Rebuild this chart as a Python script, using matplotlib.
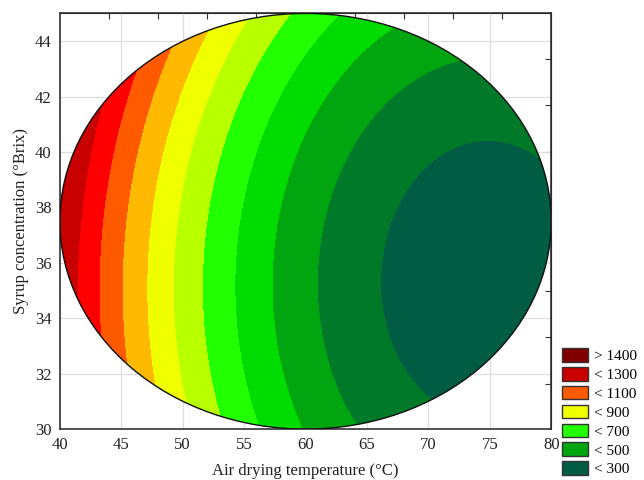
import numpy as np
import matplotlib
matplotlib.use("Agg")
import matplotlib.pyplot as plt
from matplotlib.patches import Ellipse, Patch

plt.rcParams['font.family'] = ['Liberation Serif', 'DejaVu Serif']

# quadratic response surface, estimated from the contour lines in the picture
# z = b0 + b1*u + b2*v + b11*u^2 + b22*v^2 + b12*u*v, with u = T - 60, v = Brix - 37.5
center_temp = 60.0
center_brix = 37.5
b0 = 436.97
b1 = -25.725
b2 = 11.559
b11 = 0.87219
b22 = 2.5449
b12 = -0.061957

levels = [0, 300, 400, 500, 600, 700, 800, 900, 1000, 1100, 1200, 1300, 1400, 5000]
band_colors = ['#005c42', '#007a28', '#00a510', '#00dc00', '#22ff00', '#b8ff00',
               '#f0ff00', '#ffb900', '#ff5a00', '#ff0000', '#c80000', '#a00000', '#800000']
legend_labels = ['> 1400', '< 1300', '< 1100', '< 900', '< 700', '< 500', '< 300']
legend_colors = ['#800000', '#c80000', '#ff5a00', '#f0ff00', '#22ff00', '#00a510', '#005c42']

gx, gy = np.meshgrid(np.linspace(40, 80, 400), np.linspace(30, 45, 300))
gu, gv = gx - center_temp, gy - center_brix
gz = b0 + b1 * gu + b2 * gv + b11 * gu ** 2 + b22 * gv ** 2 + b12 * gu * gv

fig = plt.figure(figsize=(6.44, 4.8), dpi=100)
ax = fig.add_axes([0.093, 0.106, 0.763, 0.866])

cs = ax.contourf(gx, gy, gz, levels=levels, colors=band_colors)
# experimental region (ellipse) outline, also used to clip the fill
ell = Ellipse((center_temp, center_brix), 40, 15, fill=False, ec='#111111', lw=1.0, zorder=3)
ax.add_patch(ell)
cs.set_clip_path(ell)

ax.set_xlim(40, 80)
ax.set_ylim(30, 45)
ax.set_xticks(range(40, 81, 5))
ax.set_yticks(range(30, 45, 2))
ax.grid(True, color='#dddddd', lw=0.9)
ax.set_axisbelow(True)
ax.tick_params(length=0, labelsize=12, colors='#222222', pad=6)
for s in ax.spines.values():
    s.set_color('#333333')
    s.set_linewidth(1.2)

# small inward ticks on top and right, like the original
top = ax.secondary_xaxis('top')
top.set_xticks(range(44, 77, 4))
top.set_xticklabels([])
top.tick_params(direction='in', length=4, color='#333333')
right = ax.secondary_yaxis('right')
right.set_yticks([31.64, 33.31, 34.99, 36.66, 38.34, 40.01, 41.69, 43.36])
right.set_yticklabels([])
right.tick_params(direction='in', length=4, color='#333333')

ax.set_xlabel('Air drying temperature (°C)', fontsize=12, color='#222222', labelpad=7)
ax.set_ylabel('Syrup concentration (°Brix)', fontsize=12, color='#222222', labelpad=4)

handles = [Patch(facecolor=c, edgecolor='#333333', lw=1) for c in legend_colors]
fig.legend(handles, legend_labels, loc='upper left', bbox_to_anchor=(0.872, 0.275),
           frameon=False, fontsize=11, borderpad=0, borderaxespad=0,
           handlelength=1.7, handleheight=1.0, labelspacing=0.25, handletextpad=0.4)

fig.savefig('out.png', dpi=100)
